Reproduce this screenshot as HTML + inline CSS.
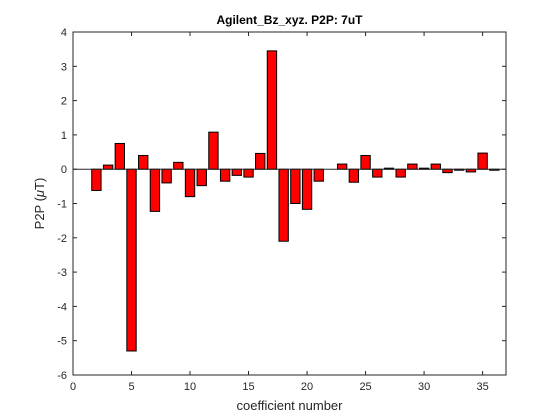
<!DOCTYPE html>
<html><head><meta charset="utf-8"><style>body{margin:0;background:#fff}svg{display:block;font-family:"Liberation Sans",sans-serif}</style></head>
<body>
<svg id="c" width="560" height="420">
<rect width="560" height="420" fill="#fff"/>
<g id="bars"></g>
<g id="axes"></g>
</svg>
<script>
const coeffs=[1,2,3,4,5,6,7,8,9,10,11,12,13,14,15,16,17,18,19,20,21,22,23,24,25,26,27,28,29,30,31,32,33,34,35,36];
const p2pValues=[0,-0.62,0.12,0.75,-5.3,0.4,-1.23,-0.4,0.2,-0.8,-0.48,1.08,-0.35,-0.18,-0.23,0.46,3.45,-2.1,-1.0,-1.17,-0.35,0,0.15,-0.38,0.4,-0.23,0.03,-0.23,0.15,0.03,0.15,-0.1,-0.03,-0.08,0.47,-0.03];
const xTicks=[0,5,10,15,20,25,30,35];
const yTicks=[-6,-5,-4,-3,-2,-1,0,1,2,3,4];
const L=73,R=506,T=32,B=375,xmin=0,xmax=37,ymin=-6,ymax=4;
const X=v=>L+(v-xmin)/(xmax-xmin)*(R-L);
const Y=v=>T+(ymax-v)/(ymax-ymin)*(B-T);
const NS='http://www.w3.org/2000/svg';
function mk(t,a,p){const e=document.createElementNS(NS,t);for(const k in a)e.setAttribute(k,a[k]);p.appendChild(e);return e;}
const bars=document.getElementById('bars'),axes=document.getElementById('axes'),svg=document.getElementById('c');
coeffs.forEach((c,i)=>{const v=p2pValues[i];if(v===0)return;
const x0=X(c-0.4),x1=X(c+0.4),y0=Y(Math.max(v,0)),y1=Y(Math.min(v,0));
const r=mk('rect',{x:x0,y:y0,width:x1-x0,height:Math.max(y1-y0,0.5),fill:'#ff0000',stroke:'#000','stroke-width':1},bars);

});
const bl=mk('line',{x1:L,x2:R,y1:Y(0),y2:Y(0),stroke:'#262626','stroke-width':1},axes);


const box=mk('rect',{x:L,y:T,width:R-L,height:B-T,fill:'none',stroke:'#262626','stroke-width':1},axes);


xTicks.forEach(t=>{const x=X(t);
mk('line',{x1:x,x2:x,y1:B,y2:B-4,stroke:'#262626'},axes);
mk('line',{x1:x,x2:x,y1:T,y2:T+4,stroke:'#262626'},axes);
const tx=mk('text',{x:x,y:B+15,'text-anchor':'middle','font-size':11,fill:'#262626'},axes);tx.textContent=t;

});
yTicks.forEach(t=>{const y=Y(t);
mk('line',{x1:L,x2:L+4,y1:y,y2:y,stroke:'#262626'},axes);
mk('line',{x1:R,x2:R-4,y1:y,y2:y,stroke:'#262626'},axes);
const tx=mk('text',{x:L-6,y:y+4,'text-anchor':'end','font-size':11,fill:'#262626'},axes);tx.textContent=t;

});
const ti=mk('text',{x:(L+R)/2,y:24,'text-anchor':'middle','font-size':12,'font-weight':'bold',fill:'#000'},svg);ti.textContent='Agilent_Bz_xyz. P2P: 7uT';


const xl=mk('text',{x:(L+R)/2,y:410,'text-anchor':'middle','font-size':13,fill:'#262626'},svg);xl.textContent='coefficient number';


const yl=mk('text',{x:0,y:0,'text-anchor':'middle','font-size':13,fill:'#262626',transform:`translate(44,${(T+B)/2}) rotate(-90)`},svg);
yl.innerHTML='P2P (<tspan font-style="italic">μ</tspan>T)';


</script>
</body></html>
